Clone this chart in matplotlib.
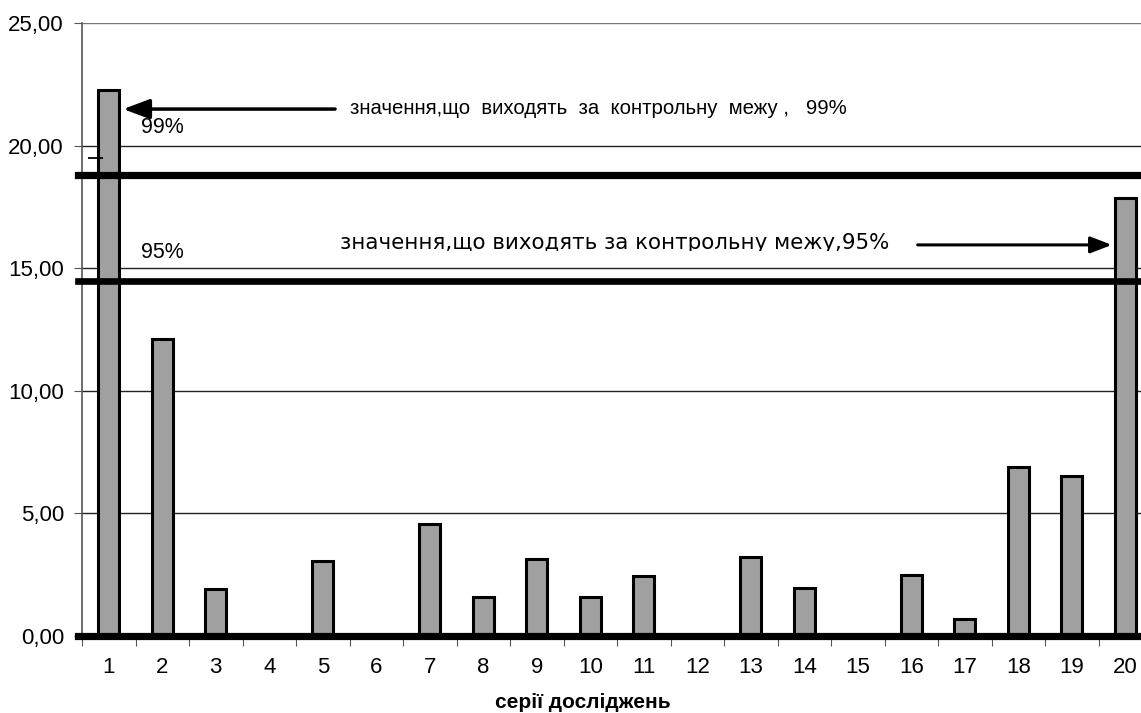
import numpy as np
import matplotlib
matplotlib.use("Agg")
import matplotlib.pyplot as plt
from matplotlib.transforms import Bbox, TransformedBbox

plt.rcParams['font.family'] = ['Liberation Sans', 'DejaVu Sans']

# ---------------------------------------------------
# дані
series = [str(i) for i in range(1, 21)]
values = [22.27, 12.11, 1.92, 0.0, 3.06, 0.0, 4.55, 1.58, 3.14, 1.59,
          2.43, 0.0, 3.21, 1.96, 0.0, 2.49, 0.68, 6.90, 6.54, 17.85]
limit_99 = 18.8    # контрольна межа 99%
limit_95 = 14.49   # контрольна межа 95%
y_ticks = [0, 5, 10, 15, 20, 25]
y_labels = ['0,00', '5,00', '10,00', '15,00', '20,00', '25,00']

# ---------------------------------------------------
W, H = 1141, 713
fig = plt.figure(figsize=(W / 100, H / 100), dpi=100)
ax = fig.add_axes([82 / W, (H - 636) / H, 1070 / W, 613 / H])

x = np.arange(1, len(values) + 1)
ax.set_xlim(0.5, len(values) + 0.5)
ax.set_ylim(0, 25)

# сітка
for yv in y_ticks[1:]:
    ax.axhline(yv, color='#222222' if yv < 25 else '#777777', lw=1.0, zorder=1)

ax.bar(x, values, width=0.4, color='#a0a0a0', edgecolor='black', lw=2.2, zorder=3)

# контрольні межі
ax.axhline(limit_99, xmin=-0.004, xmax=1, color='black', lw=5.2, zorder=4, clip_on=False)
ax.axhline(limit_95, xmin=-0.004, xmax=1, color='black', lw=4.8, zorder=4, clip_on=False)
ax.axhline(0, xmin=-0.004, xmax=1, color='black', lw=5.2, zorder=4, clip_on=False)

ax.hlines(19.5, 0.61, 0.89, color='black', lw=1.3, zorder=5)

# стрілки та підписи
ax.annotate('', xy=(1.27, 21.49), xytext=(5.23, 21.49),
            arrowprops=dict(arrowstyle='-|>,head_length=1.6,head_width=0.6',
                            color='black', lw=2.5, shrinkA=0, shrinkB=0), zorder=6)
ax.text(5.5, 21.52, 'значення,що  виходять  за  контрольну  межу ,   99%',
        fontsize=14.7, va='center', ha='left', zorder=6)
ax.text(1.61, 20.75, '99%', fontsize=15.5, va='center', ha='left', zorder=6)
ax.text(1.61, 15.65, '95%', fontsize=15.5, va='center', ha='left', zorder=6)

ax.annotate('', xy=(19.75, 15.95), xytext=(16.12, 15.95),
            arrowprops=dict(arrowstyle='-|>,head_length=1.3,head_width=0.5',
                            color='black', lw=2.2, shrinkA=0, shrinkB=0), zorder=6)
t2 = ax.text(5.33, 15.78, 'значення,що виходять за контрольну межу,95%',
             family=['DejaVu Sans'], fontsize=15.4, va='baseline', ha='left', zorder=6)
# нижня частина напису обрізана як в оригіналі
t2.set_clip_box(TransformedBbox(Bbox([[0, (H - 251) / H], [1, 1]]), fig.transFigure))
t2.set_clip_on(True)

# осі
for s in ['top', 'right', 'bottom']:
    ax.spines[s].set_visible(False)
ax.spines['left'].set_color('#555555')
ax.spines['left'].set_linewidth(1.2)

ax.set_yticks(y_ticks)
ax.set_yticklabels(y_labels, fontsize=16)
ax.tick_params(axis='y', length=6, color='#555555', pad=7)

ax.set_xticks(np.arange(0.5, len(values) + 0.5, 1.0), minor=False)
ax.set_xticklabels([])
ax.set_xticks(x, minor=True)
ax.set_xticklabels(series, minor=True, fontsize=16)
ax.tick_params(axis='x', which='minor', length=0, pad=15)
ax.tick_params(axis='x', which='major', length=7, color='#555555', direction='out')

fig.text(583 / W, (H - 703) / H, 'серії досліджень', fontsize=15,
         fontweight='bold', ha='center', va='center')

fig.savefig('out.png', dpi=100)
